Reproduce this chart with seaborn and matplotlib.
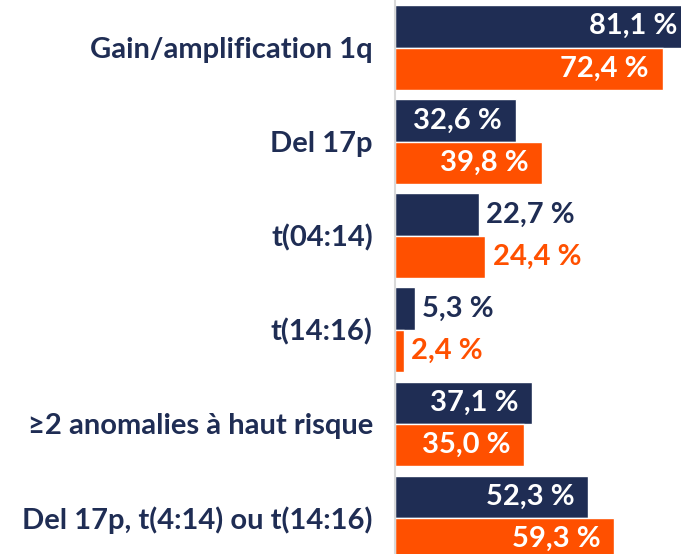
import matplotlib
matplotlib.use("Agg")
import matplotlib.pyplot as plt
import pandas as pd
import seaborn as sns

categories = [
    "Gain/amplification 1q",
    "Del 17p",
    "t(04:14)",
    "t(14:16)",
    "≥2 anomalies à haut risque",
    "Del 17p, t(4:14) ou t(14:16)",
]
serie_a = [81.1, 32.6, 22.7, 5.3, 37.1, 52.3]
serie_b = [72.4, 39.8, 24.4, 2.4, 35.0, 59.3]
groupes = ["A", "B"]

navy = "#1F2D54"
orange = "#FF5000"
xmax = 77.3

df = pd.DataFrame({
    "cat": categories * 2,
    "val": serie_a + serie_b,
    "grp": [groupes[0]] * 6 + [groupes[1]] * 6,
})

sns.set_style("white")
plt.rcParams["font.family"] = ["Lato", "DejaVu Sans"]

fig = plt.figure(figsize=(6.81, 5.54), dpi=100)
ax = fig.add_axes([0.58, 0.0, 0.42, 1.0])

sns.barplot(data=df, y="cat", x="val", hue="grp", order=categories,
            palette=[navy, orange], width=0.9, orient="h", ax=ax,
            legend=False, saturation=1)

ax.set_xlim(0, xmax)
ax.set_ylim(5.383, -0.505)
ax.set_xlabel("")
ax.set_ylabel("")
ax.set_xticks([])
for s in ["top", "right", "bottom"]:
    ax.spines[s].set_visible(False)
ax.spines["left"].set_color("#D9D9D9")
ax.spines["left"].set_linewidth(1.5)
ax.tick_params(axis="y", length=0, pad=16)
for t in ax.get_yticklabels():
    t.set_fontsize(21)
    t.set_fontweight("bold")
    t.set_color(navy)

# etiquettes de valeurs
for cont, vals, col in zip(ax.containers, [serie_a, serie_b], [navy, orange]):
    for bar, v in zip(cont, vals):
        y = bar.get_y() + bar.get_height() / 2
        txt = f"{v:.1f} %".replace(".", ",")
        if v > 30:
            ax.text(min(v - 3.8, xmax - 1.0), y, txt, ha="right", va="center",
                    color="white", fontsize=21, fontweight="bold")
        else:
            ax.text(v + 2.0, y, txt, ha="left", va="center",
                    color=col, fontsize=21, fontweight="bold")

fig.savefig("out.png", dpi=100)
